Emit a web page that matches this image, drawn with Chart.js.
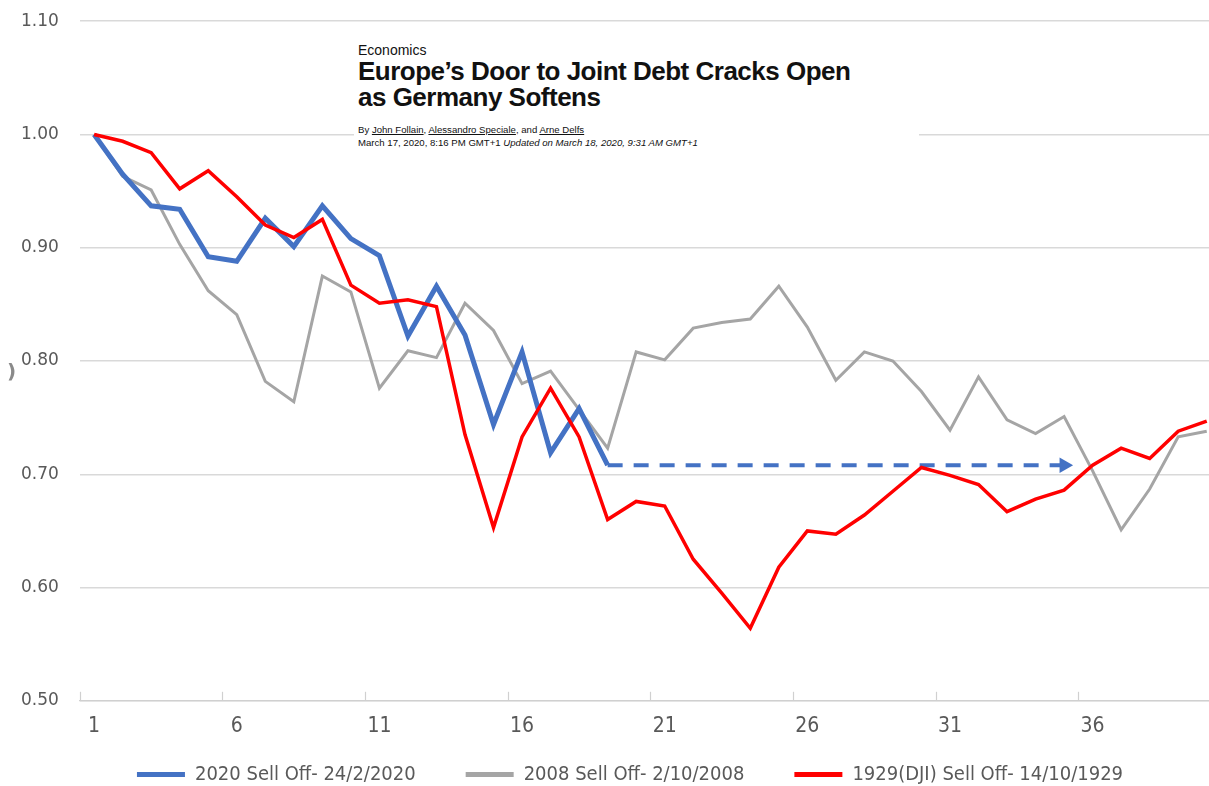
<!DOCTYPE html>
<html>
<head>
<meta charset="utf-8">
<title>Sell Off comparison</title>
<script src="https://cdn.jsdelivr.net/npm/chart.js@4.4.1/dist/chart.umd.min.js"></script>
<style>
  body { margin: 0; overflow: hidden; background: #fff; }
  #wrap { position: absolute; left: 0; top: -10px; width: 1260px; height: 796px; }
  #clip {
    position: absolute; left: 354px; top: 38px; width: 561px; height: 112px;
    padding-left: 4px; background: #fff; color: #111;
    font-family: "Liberation Sans", Arial, sans-serif;
  }
  #clip .kicker { margin-top: 4px; font-size: 14px; line-height: 16px; }
  #clip .hed { font-size: 26px; line-height: 26px; font-weight: bold; letter-spacing: -0.5px; }
  #clip .byline { margin-top: 13px; font-size: 9.6px; line-height: 13px; }
  #clip .dateline { font-size: 9.6px; line-height: 13px; }
  #stray { position: absolute; left: 7px; top: 359px; font: bold 20px "DejaVu Sans", sans-serif; color: #8a8a8a; }
</style>
</head>
<body>
<div id="wrap"><canvas id="chart-line"></canvas></div>
<div id="clip">
  <div class="kicker">Economics</div>
  <div class="hed">Europe’s Door to Joint Debt Cracks Open<br>as Germany Softens</div>
  <div class="byline">By <u>John Follain</u>, <u>Alessandro Speciale</u>, and <u>Arne Delfs</u></div>
  <div class="dateline">March 17, 2020, 8:16 PM GMT+1 <i>Updated on March 18, 2020, 9:31 AM GMT+1</i></div>
</div>
<div id="stray">)</div>
<script>
// trading days since the start of each sell off
const days = ['1','2','3','4','5','6','7','8','9','10','11','12','13','14','15','16','17','18','19','20',
              '21','22','23','24','25','26','27','28','29','30','31','32','33','34','35','36','37','38','39','40'];
const shownDays = ['1','6','11','16','21','26','31','36'];

const sellOff2020 = [1.000, 0.965, 0.937, 0.934, 0.892, 0.888, 0.926, 0.901, 0.937, 0.908,
                     0.893, 0.822, 0.866, 0.823, 0.744, 0.808, 0.719, 0.758, 0.708];
const sellOff2008 = [1.000, 0.963, 0.951, 0.903, 0.862, 0.841, 0.782, 0.764, 0.875, 0.861,
                     0.776, 0.809, 0.803, 0.851, 0.827, 0.780, 0.791, 0.757, 0.723, 0.808,
                     0.801, 0.829, 0.834, 0.837, 0.866, 0.830, 0.783, 0.808, 0.800, 0.773,
                     0.739, 0.786, 0.748, 0.736, 0.751, 0.703, 0.651, 0.687, 0.733, 0.738];
const sellOff1929 = [1.000, 0.994, 0.984, 0.952, 0.968, 0.945, 0.920, 0.909, 0.925, 0.867,
                     0.851, 0.854, 0.848, 0.735, 0.653, 0.733, 0.776, 0.733, 0.660, 0.676,
                     0.672, 0.625, 0.595, 0.564, 0.618, 0.650, 0.647, 0.664, 0.685, 0.706,
                     0.699, 0.691, 0.667, 0.678, 0.686, 0.708, 0.723, 0.714, 0.738, 0.747];
// dashed "flat from here" arrow drawn from the last 2020 value
const flatLine = [null, null, null, null, null, null, null, null, null, null,
                  null, null, null, null, null, null, null, null, 0.708, 0.708,
                  0.708, 0.708, 0.708, 0.708, 0.708, 0.708, 0.708, 0.708, 0.708, 0.708,
                  0.708, 0.708, 0.708, 0.708, 0.708];

const yMin = 0.5, yMax = 1.1, yStep = 0.1;

const blue = '#4472C4', grey = '#A5A5A5', red = '#FF0000';
const narrowFont = "'Liberation Sans Narrow', 'DejaVu Sans Condensed', 'Roboto Condensed', sans-serif";

// short tick marks at every fifth category boundary, pointing up from the axis
const boundaryTicks = {
  id: 'boundaryTicks',
  beforeDatasetsDraw(chart) {
    const { ctx, chartArea, scales: { x } } = chart;
    const half = (x.getPixelForValue(1) - x.getPixelForValue(0)) / 2;
    ctx.save();
    ctx.strokeStyle = '#d0d0d0';
    ctx.lineWidth = 1.2;
    for (let i = 0; i <= days.length; i += 5) {
      const px = Math.round(x.getPixelForValue(i) - half) + 0.5;
      ctx.beginPath();
      ctx.moveTo(px, chartArea.bottom - 9);
      ctx.lineTo(px, chartArea.bottom);
      ctx.stroke();
    }
    ctx.restore();
  }
};

// legend uses wide item spacing, so keep its layout box small and move it down
const legendPlacement = {
  id: 'legendPlacement',
  afterInit(chart) {
    const fit = chart.legend.fit;
    chart.legend.fit = function () { fit.call(this); this.height = 34; };
  },
  afterLayout(chart) {
    const lg = chart.legend;
    const pad = lg.options.labels.padding;
    lg.top = 787 - pad - 12.6;
    lg.bottom = chart.height;
    lg.left += 19.5; lg.right += 19.5;
  }
};

new Chart(document.getElementById('chart-line'), {
  type: 'line',
  data: {
    labels: days,
    datasets: [
      { label: '2020 Sell Off- 24/2/2020', data: sellOff2020, borderColor: blue, backgroundColor: blue,
        borderWidth: 5, order: 1 },
      { label: '2008 Sell Off- 2/10/2008', data: sellOff2008, borderColor: grey, backgroundColor: grey,
        borderWidth: 3, order: 2 },
      { label: '1929(DJI) Sell Off- 14/10/1929', data: sellOff1929, borderColor: red, backgroundColor: red,
        borderWidth: 3.5, order: 0 },
      { label: 'flat', data: flatLine, borderColor: blue, backgroundColor: blue, borderWidth: 4,
        borderDash: [15, 11], order: 1,
        pointStyle: 'triangle', rotation: 90, pointBorderWidth: 0,
        pointRadius: (c) => c.dataIndex === flatLine.length - 1 ? 9 : 0 }
    ]
  },
  options: {
    responsive: true,
    maintainAspectRatio: false,
    animation: false,
    layout: { padding: { left: 0, right: 39, top: 0, bottom: 0 } },
    elements: { point: { radius: 0, hoverRadius: 0 }, line: { tension: 0 } },
    scales: {
      x: {
        offset: true,
        grid: { display: false, drawTicks: false },
        border: { color: '#d0d0d0', width: 1.3 },
        ticks: {
          autoSkip: false, maxRotation: 0, padding: 13,
          color: '#595959',
          font: { family: narrowFont, size: 21 },
          callback: function (v) {
            const lab = this.getLabelForValue(v);
            return shownDays.includes(lab) ? lab : '';
          }
        }
      },
      y: {
        min: yMin, max: yMax,
        border: { display: false },
        grid: { color: '#d9d9d9', lineWidth: 1.5, drawTicks: false },
        ticks: {
          stepSize: yStep, padding: 21, color: '#595959',
          font: { family: "'DejaVu Sans', sans-serif", size: 17 },
          callback: (v) => v.toFixed(2)
        }
      }
    },
    plugins: {
      tooltip: { enabled: false },
      legend: {
        position: 'bottom',
        labels: {
          boxWidth: 48, boxHeight: 5, padding: 50,
          color: '#595959',
          font: { family: narrowFont, size: 20 },
          generateLabels: (chart) => chart.data.datasets.slice(0, 3).map((ds, i) => ({
            text: ds.label, fillStyle: ds.borderColor, strokeStyle: ds.borderColor,
            lineWidth: 0, hidden: false, datasetIndex: i, fontColor: '#595959'
          }))
        }
      }
    }
  },
  plugins: [boundaryTicks, legendPlacement]
});
</script>
</body>
</html>
